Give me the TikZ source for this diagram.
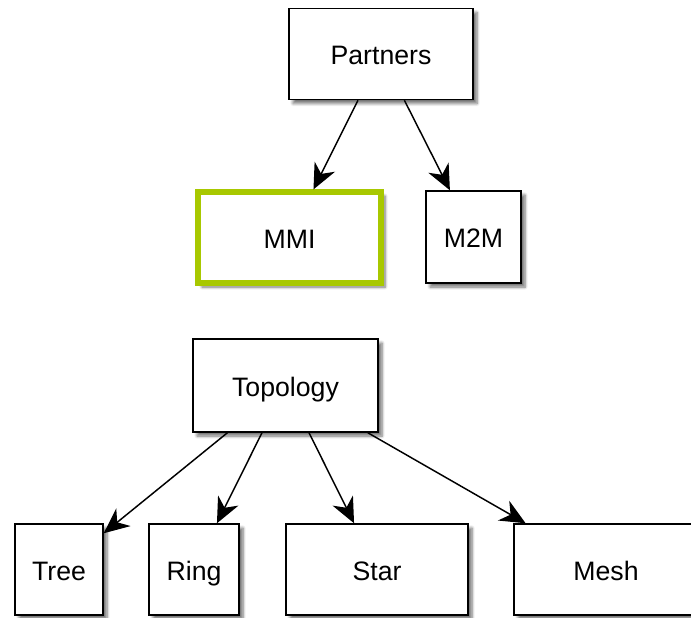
\documentclass[tikz,border=0pt]{standalone}
\usepackage{fontspec}
\setmainfont{Liberation Sans}
\usetikzlibrary{arrows.meta,shadows.blur}
\definecolor{mmigreen}{RGB}{168,200,0}
\tikzset{
  box/.style={draw=black, line width=1.1pt, fill=white, inner sep=0pt,
    font=\fontsize{20}{24}\selectfont, text height=16pt, text depth=0pt,
    blur shadow={shadow xshift=3pt, shadow yshift=-3pt, shadow blur steps=6, shadow opacity=55}},
  link/.style={line width=1.1pt, -{Stealth[length=19pt,width=17pt,inset=6pt]}}
}
\begin{document}
\begin{tikzpicture}[x=0.75pt,y=-0.75pt]
\useasboundingbox (0,0) rectangle (691,617);
\node[box, minimum width=184*0.75pt, minimum height=91*0.75pt] (partners) at (381,54) {Partners};
\node[box, draw=mmigreen, line width=3.9pt, minimum width=183*0.75pt, minimum height=91*0.75pt] (mmi) at (289.5,237.5) {MMI};
\node[box, minimum width=95*0.75pt, minimum height=92*0.75pt] (m2m) at (473.5,237) {M2M};
\node[box, minimum width=185*0.75pt, minimum height=93*0.75pt] (topology) at (285.5,385.5) {Topology};
\node[box, minimum width=88*0.75pt, minimum height=91*0.75pt] (tree) at (59,569.5) {Tree};
\node[box, minimum width=90*0.75pt, minimum height=91*0.75pt] (ring) at (194,569.5) {Ring};
\node[box, minimum width=182*0.75pt, minimum height=91*0.75pt] (star) at (377,569.5) {Star};
\node[box, minimum width=184*0.75pt, minimum height=91*0.75pt] (mesh) at (606,569.5) {Mesh};
\draw[link] (partners) -- (mmi);
\draw[link] (partners) -- (m2m);
\draw[link] (topology) -- (tree);
\draw[link] (topology) -- (ring);
\draw[link] (topology) -- (star);
\draw[link] (topology) -- (mesh);
\end{tikzpicture}
\end{document}
